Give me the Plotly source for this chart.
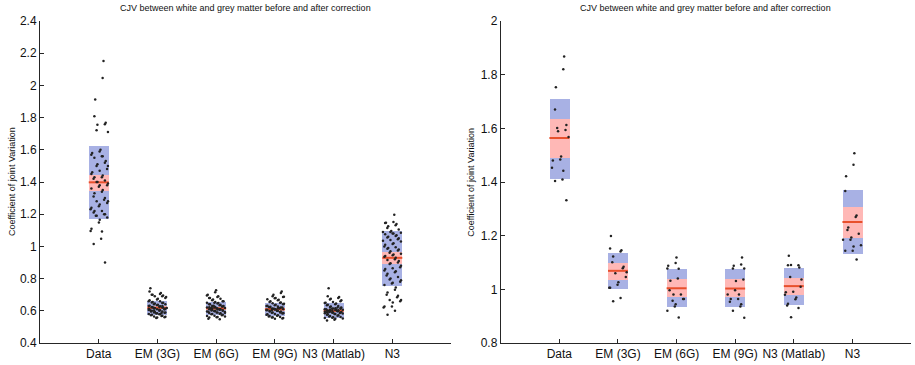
import plotly.graph_objects as go

categories = ["Data", "EM (3G)", "EM (6G)", "EM (9G)", "N3 (Matlab)", "N3"]
title_text = "CJV between white and grey matter before and after correction"
ylabel_text = "Coefficient of joint Variation"

# ---------------- Left panel (many subjects) ----------------
left_data = [2.151, 2.046, 1.912, 1.809, 1.768, 1.758, 1.756, 1.721, 1.711,
             1.60, 1.59, 1.58, 1.57, 1.56, 1.56, 1.55, 1.53, 1.52, 1.51, 1.50, 1.50,
             1.48, 1.47, 1.46, 1.45, 1.44, 1.43, 1.43, 1.42, 1.41, 1.40, 1.40,
             1.39, 1.38, 1.38, 1.37, 1.36, 1.35, 1.34, 1.33, 1.31, 1.30, 1.29,
             1.28, 1.28, 1.27, 1.26, 1.25, 1.24, 1.23, 1.22, 1.22, 1.21, 1.20,
             1.20, 1.19, 1.19, 1.18,
             1.165, 1.149, 1.110, 1.096, 1.093, 1.048, 1.015, 0.900]
left_em3 = [0.74, 0.72, 0.71, 0.705, 0.70, 0.70, 0.695, 0.69, 0.69, 0.685, 0.68,
            0.675, 0.67, 0.665, 0.66, 0.66, 0.655, 0.652, 0.65, 0.648, 0.645,
            0.64, 0.64, 0.638, 0.635, 0.632, 0.63, 0.628, 0.625, 0.622, 0.62,
            0.62, 0.618, 0.615, 0.613, 0.61, 0.61, 0.608, 0.605, 0.603, 0.60,
            0.60, 0.598, 0.595, 0.593, 0.59, 0.59, 0.588, 0.585, 0.583, 0.58,
            0.58, 0.578, 0.575, 0.573, 0.57, 0.568, 0.565, 0.563, 0.56, 0.558,
            0.555, 0.612, 0.617, 0.606, 0.624, 0.596, 0.63, 0.586, 0.60, 0.62, 0.61]
left_em6 = [0.728, 0.715, 0.70, 0.695, 0.69, 0.685, 0.68, 0.68, 0.675, 0.67,
            0.665, 0.66, 0.66, 0.655, 0.65, 0.65, 0.648, 0.645, 0.64, 0.64,
            0.637, 0.634, 0.63, 0.63, 0.627, 0.624, 0.62, 0.62, 0.618, 0.615,
            0.612, 0.61, 0.61, 0.607, 0.605, 0.602, 0.60, 0.60, 0.597, 0.595,
            0.592, 0.59, 0.59, 0.587, 0.585, 0.582, 0.58, 0.578, 0.575, 0.573,
            0.57, 0.567, 0.565, 0.562, 0.56, 0.558, 0.55, 0.548, 0.614, 0.619,
            0.604, 0.626, 0.598, 0.632, 0.588, 0.608, 0.616, 0.622, 0.594, 0.61]
left_em9 = [0.72, 0.71, 0.70, 0.69, 0.688, 0.685, 0.68, 0.678, 0.672, 0.668,
            0.665, 0.66, 0.655, 0.652, 0.65, 0.647, 0.644, 0.64, 0.638, 0.635,
            0.632, 0.63, 0.627, 0.625, 0.622, 0.62, 0.618, 0.615, 0.613, 0.61,
            0.61, 0.608, 0.605, 0.603, 0.60, 0.60, 0.598, 0.595, 0.593, 0.59,
            0.588, 0.585, 0.583, 0.58, 0.578, 0.575, 0.573, 0.57, 0.568, 0.565,
            0.562, 0.56, 0.558, 0.555, 0.552, 0.55, 0.612, 0.606, 0.618, 0.6,
            0.596, 0.624, 0.59, 0.614, 0.604, 0.586, 0.62, 0.61]
left_n3m = [0.74, 0.69, 0.685, 0.68, 0.675, 0.67, 0.665, 0.66, 0.655, 0.65,
            0.648, 0.645, 0.64, 0.637, 0.634, 0.63, 0.627, 0.624, 0.62, 0.618,
            0.615, 0.612, 0.61, 0.607, 0.605, 0.602, 0.60, 0.60, 0.598, 0.595,
            0.593, 0.59, 0.59, 0.588, 0.585, 0.583, 0.58, 0.578, 0.575, 0.572,
            0.57, 0.568, 0.565, 0.562, 0.56, 0.557, 0.555, 0.552, 0.55, 0.545,
            0.54, 0.603, 0.597, 0.608, 0.592, 0.612, 0.586, 0.6, 0.594, 0.606,
            0.616, 0.58, 0.59, 0.61, 0.62, 0.598]
left_n3 = [1.196, 1.151, 1.147, 1.145, 1.139, 1.132, 1.125, 1.114, 1.105,
           1.095, 1.09, 1.09, 1.085, 1.08, 1.08, 1.075, 1.07, 1.065, 1.06, 1.055,
           1.05, 1.045, 1.04, 1.035, 1.03, 1.02, 1.015, 1.01, 1.00, 0.995, 0.99,
           0.985, 0.98, 0.975, 0.97, 0.96, 0.955, 0.95, 0.945, 0.94, 0.935, 0.93,
           0.92, 0.915, 0.91, 0.90, 0.895, 0.89, 0.88, 0.87, 0.865, 0.86, 0.85,
           0.845, 0.84, 0.83, 0.82, 0.81, 0.80, 0.795, 0.79, 0.78, 0.775, 0.77,
           0.76, 0.745, 0.73, 0.713, 0.70, 0.694, 0.684, 0.667, 0.667, 0.66,
           0.651, 0.627, 0.627, 0.62, 0.60, 0.575]

left_mean = [1.398, 0.618, 0.615, 0.610, 0.600, 0.929]
left_sd_hi = [1.622, 0.659, 0.653, 0.651, 0.647, 1.096]
left_sd_lo = [1.172, 0.575, 0.576, 0.566, 0.553, 0.756]
left_ci_hi = [1.445, 0.627, 0.624, 0.619, 0.609, 0.968]
left_ci_lo = [1.344, 0.609, 0.606, 0.601, 0.591, 0.890]

# ---------------- Right panel (few subjects) ----------------
right_data = [1.868, 1.820, 1.753, 1.670, 1.612, 1.594, 1.589, 1.601, 1.568,
              1.495, 1.484, 1.480, 1.453, 1.442, 1.409, 1.404, 1.332]
right_em3 = [1.199, 1.152, 1.146, 1.141, 1.122, 1.101, 1.084, 1.079, 1.060,
             1.064, 1.046, 1.026, 1.017, 1.006, 1.006, 0.968, 0.956]
right_em6 = [1.119, 1.098, 1.088, 1.078, 1.077, 1.040, 1.032, 0.997, 0.981,
             0.981, 0.957, 0.964, 0.964, 0.944, 0.936, 0.920, 0.895]
right_em9 = [1.119, 1.093, 1.088, 1.078, 1.078, 1.037, 1.031, 0.997, 0.981,
             0.981, 0.964, 0.964, 0.954, 0.944, 0.936, 0.920, 0.894]
right_n3m = [1.125, 1.090, 1.081, 1.090, 1.091, 1.046, 1.037, 1.010, 0.991,
             0.989, 0.980, 0.970, 0.963, 0.946, 0.940, 0.930, 0.896]
right_n3 = [1.507, 1.464, 1.421, 1.366, 1.275, 1.270, 1.230, 1.221, 1.207,
            1.193, 1.185, 1.185, 1.164, 1.160, 1.144, 1.144, 1.111]

right_mean = [1.564, 1.069, 1.004, 1.003, 1.012, 1.251]
right_sd_hi = [1.711, 1.137, 1.074, 1.074, 1.078, 1.370]
right_sd_lo = [1.412, 1.001, 0.934, 0.934, 0.942, 1.130]
right_ci_hi = [1.633, 1.100, 1.037, 1.037, 1.044, 1.307]
right_ci_lo = [1.489, 1.034, 0.970, 0.970, 0.978, 1.191]

left_points = [left_data, left_em3, left_em6, left_em9, left_n3m, left_n3]
right_points = [right_data, right_em3, right_em6, right_em9, right_n3m, right_n3]

# ---------------- styling ----------------
BLUE = "#A8B1E4"
PINK = "#FFB8B6"
MEAN = "#E8502C"
DOT = "#222222"
AXC = "#262626"
FONT = "Liberation Sans, Arial, sans-serif"
BOX_W = 0.34
JIT_W = 0.32

positions = [i + 1 for i in range(len(categories))]

fig = go.Figure()


def add_panel(points, mean, sd_lo, sd_hi, ci_lo, ci_hi, xa, ya):
    # SD boxes
    fig.add_trace(go.Bar(x=positions, y=[h - l for l, h in zip(sd_lo, sd_hi)],
                         base=sd_lo, width=BOX_W, marker=dict(color=BLUE, line=dict(width=0)),
                         xaxis=xa, yaxis=ya, showlegend=False, hoverinfo="skip"))
    # CI boxes
    fig.add_trace(go.Bar(x=positions, y=[h - l for l, h in zip(ci_lo, ci_hi)],
                         base=ci_lo, width=BOX_W, marker=dict(color=PINK, line=dict(width=0)),
                         xaxis=xa, yaxis=ya, showlegend=False, hoverinfo="skip"))
    # mean lines
    mx, my = [], []
    for p, m in zip(positions, mean):
        mx += [p - BOX_W / 2, p + BOX_W / 2, None]
        my += [m, m, None]
    fig.add_trace(go.Scatter(x=mx, y=my, mode="lines", line=dict(color=MEAN, width=2),
                             xaxis=xa, yaxis=ya, showlegend=False, hoverinfo="skip"))
    # jittered points (deterministic jitter)
    px, py = [], []
    for c, (p, vals) in enumerate(zip(positions, points)):
        for i, v in enumerate(vals):
            off = (((i + 1) * 0.7548776662 + ((i * 0.5698402910) % 1.0) * 0.35 + c * 0.37) % 1.0 - 0.5) * JIT_W
            px.append(p + off)
            py.append(v)
    fig.add_trace(go.Scatter(x=px, y=py, mode="markers",
                             marker=dict(color=DOT, size=2.5, line=dict(width=0)),
                             xaxis=xa, yaxis=ya, showlegend=False, hoverinfo="skip"))


add_panel(left_points, left_mean, left_sd_lo, left_sd_hi, left_ci_lo, left_ci_hi, "x", "y")
add_panel(right_points, right_mean, right_sd_lo, right_sd_hi, right_ci_lo, right_ci_hi, "x2", "y2")

L_DOM = [0.0, 0.4719]
R_DOM = [0.529, 1.0]

xcommon = dict(range=[0, 7], tickmode="array", tickvals=positions, ticktext=categories,
               ticks="inside", ticklen=4, tickcolor=AXC, tickwidth=1,
               showline=True, linecolor=AXC, linewidth=1, mirror=False,
               showgrid=False, zeroline=False, tickfont=dict(size=12, color="#111", family=FONT))
ycommon = dict(dtick=0.2, ticks="inside", ticklen=4, tickcolor=AXC, tickwidth=1,
               showline=True, linecolor=AXC, linewidth=1, mirror=False,
               showgrid=False, zeroline=False, tickfont=dict(size=12, color="#111", family=FONT))

fig.update_layout(
    width=915, height=365,
    margin=dict(l=40, r=4, t=21, b=20, pad=0),
    paper_bgcolor="white", plot_bgcolor="white",
    barmode="overlay", bargap=0,
    font=dict(family=FONT, color="#111"),
    xaxis=dict(domain=L_DOM, anchor="y", **xcommon),
    yaxis=dict(range=[0.4, 2.4], anchor="x", tick0=0.4, **ycommon),
    xaxis2=dict(domain=R_DOM, anchor="y2", **xcommon),
    yaxis2=dict(range=[0.8, 2.0], anchor="x2", tick0=0.8, **ycommon),
)

for dom, xs in ((L_DOM, -28), (R_DOM, -30)):
    fig.add_annotation(text=title_text, xref="paper", yref="paper",
                       x=(dom[0] + dom[1]) / 2, y=1, yshift=13, xanchor="center", yanchor="middle",
                       showarrow=False, font=dict(size=9, color="#111", family=FONT))
    fig.add_annotation(text=ylabel_text, xref="paper", yref="paper",
                       x=dom[0], y=0.5, xshift=xs, xanchor="center", yanchor="middle",
                       textangle=-90, showarrow=False, font=dict(size=9, color="#111", family=FONT))

fig.write_html("out.html")
